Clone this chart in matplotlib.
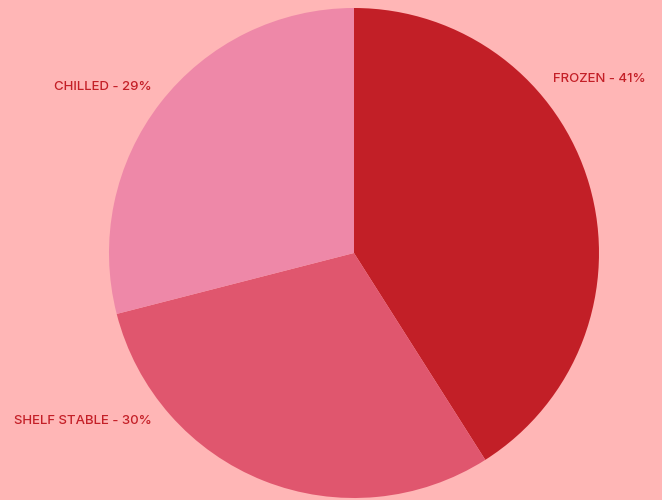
import matplotlib
matplotlib.use("Agg")
import matplotlib.pyplot as plt

categories = ["FROZEN", "SHELF STABLE", "CHILLED"]
values = [41, 30, 29]
colors = ["#c21f27", "#e0566e", "#ee88a8"]
label_pos = [(0.812, 0.712, "left"), (-0.824, -0.684, "right"), (-0.824, 0.676, "right")]

W, H = 662, 500
fig = plt.figure(figsize=(W / 100, H / 100), dpi=100)
fig.patch.set_facecolor("#ffb6b6")
cx, cy, r = 354, 253, 245
ax = fig.add_axes([(cx - r) / W, (H - cy - r) / H, 2 * r / W, 2 * r / H])
ax.set_facecolor("none")
ax.pie(values, colors=colors, startangle=90, counterclock=False, radius=1,
       wedgeprops=dict(linewidth=0))
ax.set_xlim(-1, 1)
ax.set_ylim(-1, 1)
ax.set_aspect("equal")
ax.axis("off")

for cat, v, (x, y, ha) in zip(categories, values, label_pos):
    ax.text(x, y, f"{cat} - {v}%", ha=ha, va="center", fontsize=9.5,
            family="Inter", fontweight="medium", color="#c41f27", clip_on=False)

fig.savefig("out.png", dpi=100, facecolor=fig.get_facecolor())
